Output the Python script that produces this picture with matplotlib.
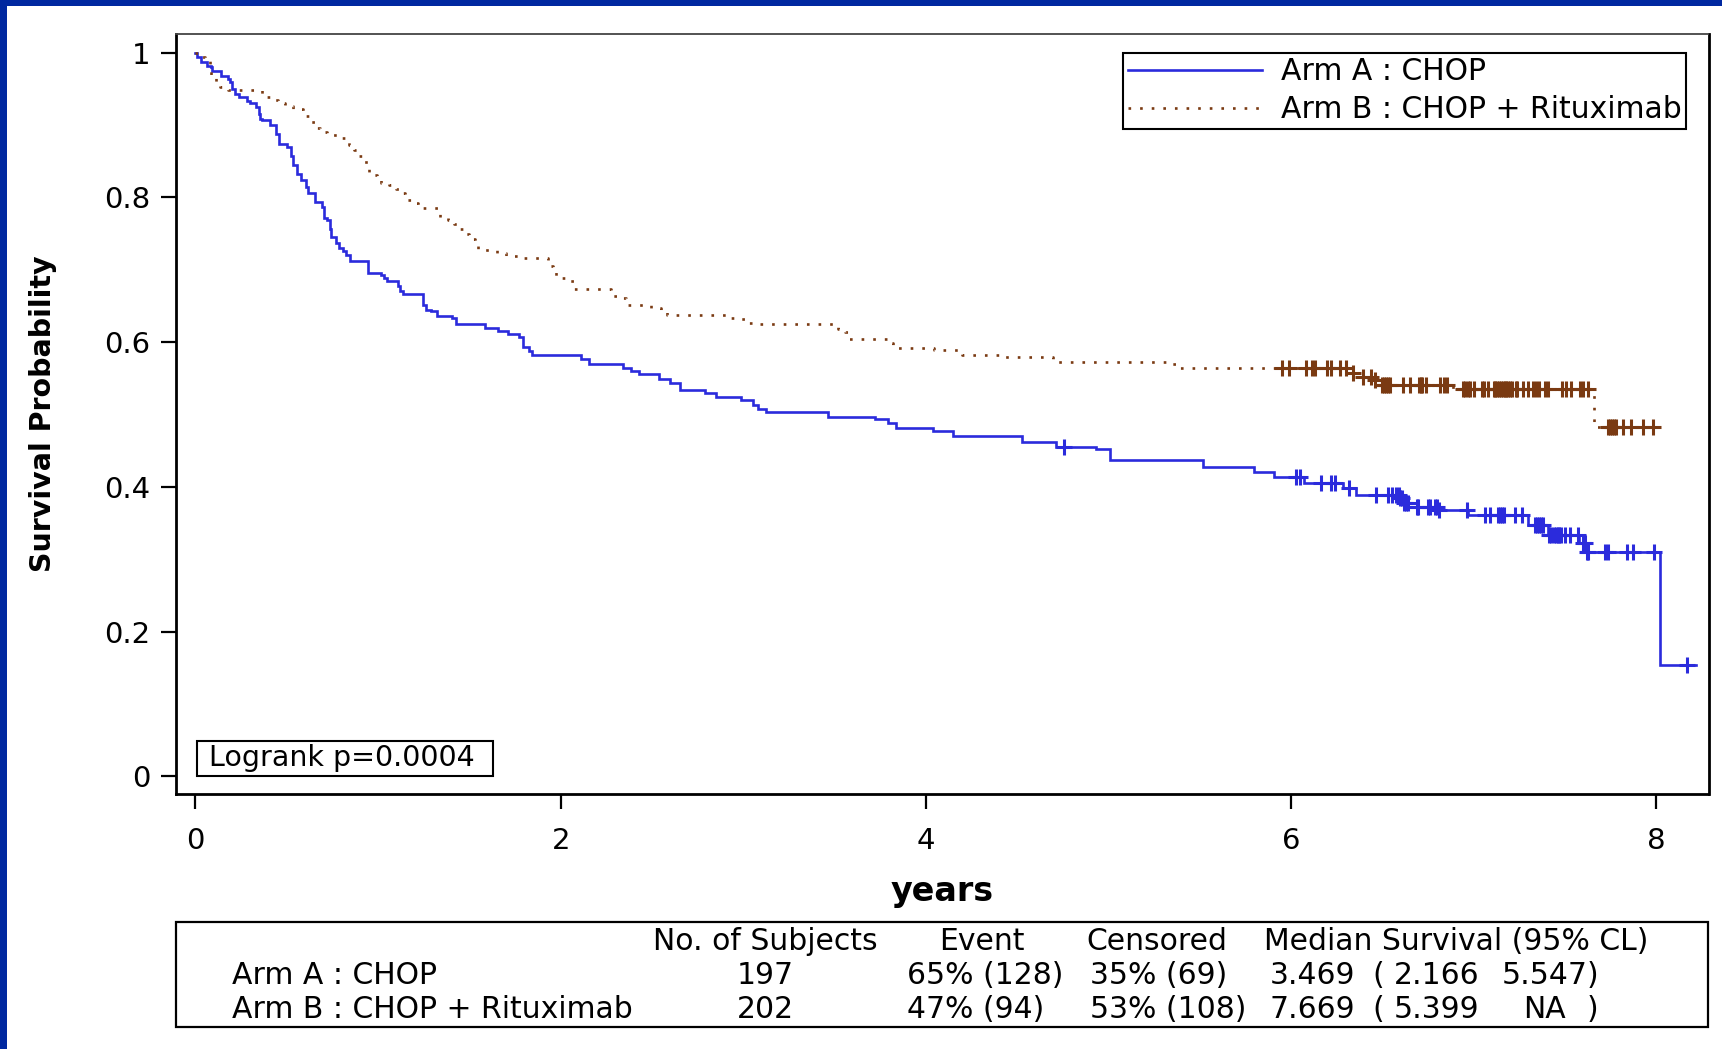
import numpy as np
import matplotlib
matplotlib.use("Agg")
import matplotlib.pyplot as plt
from matplotlib.patches import Rectangle

plt.rcParams['font.family'] = ['DejaVu Sans']

# ---------------- data ----------------
arm_labels = ['Arm A : CHOP', 'Arm B : CHOP + Rituximab']

time_A = [0.0, 0.010, 0.031, 0.063, 0.084, 0.090, 0.140, 0.178, 0.189, 0.199,
          0.214, 0.241, 0.283, 0.298, 0.331, 0.346, 0.356, 0.367, 0.409, 0.440,
          0.455, 0.503, 0.524, 0.535, 0.556, 0.577, 0.608, 0.618, 0.654, 0.692,
          0.702, 0.723, 0.734, 0.744, 0.771, 0.786, 0.807, 0.822, 0.849, 0.943,
          1.017, 1.031, 1.048, 1.111, 1.122, 1.136, 1.247, 1.262, 1.289, 1.321,
          1.405, 1.426, 1.583, 1.656, 1.713, 1.771, 1.792, 1.824, 1.845, 2.113,
          2.155, 2.342, 2.386, 2.428, 2.537, 2.600, 2.652, 2.792, 2.851, 2.990,
          3.051, 3.080, 3.124, 3.467, 3.721, 3.795, 3.838, 4.039, 4.149, 4.528,
          4.712, 4.934, 5.007, 5.520, 5.800, 5.906, 6.070, 6.286, 6.359, 6.596,
          6.620, 6.642, 6.810, 6.970, 7.300, 7.410, 7.580, 7.620, 8.020]
surv_A = [1.000, 0.9945, 0.9867, 0.9821, 0.9798, 0.9752, 0.9683, 0.9638, 0.9592, 0.9500,
          0.9431, 0.9394, 0.9339, 0.9303, 0.9248, 0.9156, 0.9087, 0.9073, 0.8995, 0.8881,
          0.8743, 0.8697, 0.8569, 0.8445, 0.8330, 0.8239, 0.8147, 0.8064, 0.7940, 0.7872,
          0.7711, 0.7688, 0.7560, 0.7459, 0.7367, 0.7298, 0.7266, 0.7206, 0.7115, 0.6954,
          0.6931, 0.6885, 0.6839, 0.6771, 0.6702, 0.6670, 0.6509, 0.6450, 0.6427, 0.6358,
          0.6330, 0.6257, 0.6197, 0.6161, 0.6106, 0.6073, 0.5936, 0.5876, 0.5817, 0.5761,
          0.5693, 0.5647, 0.5601, 0.5555, 0.5486, 0.5431, 0.5339, 0.5303, 0.5243, 0.5200,
          0.5130, 0.5070, 0.5030, 0.4970, 0.4940, 0.4880, 0.4810, 0.4770, 0.4710, 0.4620,
          0.4550, 0.4520, 0.4370, 0.4280, 0.4200, 0.4140, 0.4050, 0.3980, 0.3887, 0.3841,
          0.3772, 0.3725, 0.3680, 0.3610, 0.3472, 0.3334, 0.3220, 0.3104, 0.1539]
end_A = 8.22
cens_A = [4.755, 6.030, 6.049, 6.167, 6.222, 6.240, 6.317, 6.468, 6.532, 6.551,
          6.578, 6.591, 6.600, 6.610, 6.620, 6.630, 6.640, 6.688, 6.697, 6.752,
          6.761, 6.788, 6.801, 6.812, 6.965, 7.062, 7.089, 7.135, 7.145, 7.155,
          7.165, 7.226, 7.263, 7.336, 7.350, 7.360, 7.370, 7.380, 7.414, 7.427,
          7.440, 7.450, 7.460, 7.470, 7.480, 7.500, 7.527, 7.573, 7.600, 7.610,
          7.620, 7.628, 7.719, 7.737, 7.838, 7.874, 7.987, 8.170]

time_B = [0.0, 0.025, 0.050, 0.079, 0.083, 0.110, 0.136, 0.180, 0.367, 0.409,
          0.450, 0.490, 0.535, 0.587, 0.608, 0.629, 0.654, 0.681, 0.720, 0.800,
          0.839, 0.866, 0.890, 0.912, 0.943, 0.948, 0.996, 1.017, 1.059, 1.100,
          1.132, 1.147, 1.195, 1.216, 1.338, 1.384, 1.415, 1.447, 1.474, 1.499,
          1.530, 1.545, 1.650, 1.700, 1.800, 1.929, 1.960, 1.975, 2.050, 2.075,
          2.275, 2.317, 2.358, 2.495, 2.547, 2.580, 2.920, 2.980, 3.020, 3.056,
          3.520, 3.557, 3.580, 3.790, 3.820, 4.045, 4.200, 4.400, 4.694, 5.350,
          5.390, 6.305, 6.350, 6.450, 6.496, 6.887, 7.660]
surv_B = [1.000, 0.994, 0.988, 0.975, 0.967, 0.960, 0.953, 0.948, 0.939, 0.934,
          0.930, 0.927, 0.922, 0.920, 0.912, 0.904, 0.896, 0.890, 0.886, 0.882,
          0.872, 0.865, 0.857, 0.849, 0.842, 0.831, 0.828, 0.820, 0.817, 0.812,
          0.806, 0.796, 0.792, 0.785, 0.772, 0.769, 0.763, 0.756, 0.750, 0.742,
          0.738, 0.727, 0.723, 0.719, 0.716, 0.705, 0.700, 0.689, 0.684, 0.673,
          0.664, 0.661, 0.652, 0.647, 0.644, 0.638, 0.634, 0.632, 0.627, 0.6245,
          0.618, 0.614, 0.605, 0.599, 0.592, 0.589, 0.582, 0.580, 0.573, 0.570,
          0.564, 0.558, 0.552, 0.5475, 0.5406, 0.5347, 0.483]
end_B = 8.04
cens_B = [5.953, 5.990, 6.085, 6.113, 6.131, 6.195, 6.222, 6.268, 6.299, 6.341,
          6.395, 6.441, 6.460, 6.500, 6.510, 6.520, 6.530, 6.540, 6.615, 6.651,
          6.700, 6.710, 6.720, 6.740, 6.815, 6.840, 6.852, 6.943, 6.955, 6.970,
          6.980, 7.000, 7.044, 7.060, 7.080, 7.110, 7.120, 7.130, 7.140, 7.150,
          7.160, 7.170, 7.180, 7.190, 7.200, 7.210, 7.230, 7.240, 7.272, 7.299,
          7.327, 7.340, 7.360, 7.390, 7.410, 7.482, 7.509, 7.536, 7.582, 7.600,
          7.628, 7.737, 7.750, 7.760, 7.770, 7.780, 7.820, 7.865, 7.929, 7.984]

x_ticks = [0, 2, 4, 6, 8]
y_ticks = [0, 0.2, 0.4, 0.6, 0.8, 1.0]
y_tick_labels = ['0', '0.2', '0.4', '0.6', '0.8', '1']

logrank_text = 'Logrank p=0.0004'
table_header = ['No. of Subjects', 'Event', 'Censored', 'Median Survival (95% CL)']
n_subjects = ['197', '202']
events = ['65% (128)', '47% (94)']
censored = ['35% (69)', '53% (108)']
median_surv = ['3.469', '7.669']
ci_low = ['2.166', '5.399']
ci_high = ['5.547', 'NA']

# ---------------- style ----------------
BLUE = '#2B2BDC'
BROWN = '#7A3A12'
FRAME_BLUE = '#0028A0'

W, H = 1722, 1049
fig = plt.figure(figsize=(W / 100, H / 100), dpi=100)
fig.patch.set_facecolor('white')


def fx(px):
    return px / W


def fy(py):
    return 1 - py / H


ax_l, ax_r, ax_t, ax_b = 175.7, 1708.5, 34, 794
ax = fig.add_axes([fx(ax_l), fy(ax_b), fx(ax_r) - fx(ax_l), fy(ax_t) - fy(ax_b)])


def step_xy(t, s, end):
    return list(t) + [end], list(s) + [s[-1]]


def surv_at(t, s, c):
    idx = np.searchsorted(np.asarray(t), np.asarray(c), side='right') - 1
    return np.asarray(s)[idx]


xa, ya = step_xy(time_A, surv_A, end_A)
xb, yb = step_xy(time_B, surv_B, end_B)
lineA, = ax.plot(xa, ya, drawstyle='steps-post', color=BLUE, lw=1.9,
                 solid_joinstyle='miter')
lineB, = ax.plot(xb, yb, drawstyle='steps-post', color=BROWN, lw=1.9,
                 linestyle=(0, (1, 3.4)), dash_capstyle='butt')

ax.plot(cens_A, surv_at(time_A, surv_A, cens_A), linestyle='none', marker='+',
        ms=11.5, mew=2.2, color=BLUE)
ax.plot(cens_B, surv_at(time_B, surv_B, cens_B), linestyle='none', marker='+',
        ms=11.5, mew=2.2, color=BROWN)

ax.set_xlim(-0.1084, 8.287)
ax.set_ylim(-0.0243, 1.0258)
ax.set_xticks(x_ticks)
ax.set_xticklabels([str(v) for v in x_ticks])
ax.set_yticks(y_ticks)
ax.set_yticklabels(y_tick_labels)
ax.tick_params(axis='both', direction='out', length=11, width=1.6, labelsize=21,
               colors='black')
ax.tick_params(axis='y', pad=7)
ax.tick_params(axis='x', pad=13)

for side in ['left', 'bottom', 'right']:
    ax.spines[side].set_linewidth(2.0)
    ax.spines[side].set_color('black')
ax.spines['top'].set_linewidth(1.3)
ax.spines['top'].set_color('#444444')

ax.set_xlabel('years', fontsize=24, fontweight='bold')
ax.xaxis.label.set_va('center')
ax.xaxis.set_label_coords(0.5, (ax_b - 892) / (ax_b - ax_t))
ax.set_ylabel('Survival Probability', fontsize=20.5, fontweight='bold')
ax.yaxis.label.set_va('center')
ax.yaxis.set_label_coords((43 - ax_l) / (ax_r - ax_l), 0.5)

leg = ax.legend(handles=[lineA, lineB], labels=arm_labels, loc='upper right',
                bbox_to_anchor=(fx(1686), fy(53)), bbox_transform=fig.transFigure,
                borderaxespad=0, fontsize=21.5, handlelength=4.5, handletextpad=0.62,
                borderpad=0.15, labelspacing=0.3, frameon=True, fancybox=False,
                edgecolor='black', framealpha=1)
leg.get_frame().set_linewidth(1.5)

# Logrank box
fig.add_artist(Rectangle((fx(197), fy(776)), fx(493) - fx(197), fy(741) - fy(776),
                         transform=fig.transFigure, fill=False, ec='black', lw=1.5))
fig.text(fx(208.7), fy(758.5), logrank_text, ha='left', va='center', fontsize=20.5)

# Summary table
fig.add_artist(Rectangle((fx(176), fy(1027)), fx(1708) - fx(176), fy(922) - fy(1027),
                         transform=fig.transFigure, fill=False, ec='black', lw=1.6))
TS = 21.5
hy = fy(942)
fig.text(fx(765), hy, table_header[0], ha='center', va='center', fontsize=TS)
fig.text(fx(982), hy, table_header[1], ha='center', va='center', fontsize=TS)
fig.text(fx(1086), hy, table_header[2], ha='left', va='center', fontsize=TS)
fig.text(fx(1264), hy, table_header[3], ha='left', va='center', fontsize=TS)
for i, ry in enumerate([976, 1010]):
    yy = fy(ry)
    fig.text(fx(231.7), yy, arm_labels[i], ha='left', va='center', fontsize=TS)
    fig.text(fx(765), yy, n_subjects[i], ha='center', va='center', fontsize=TS)
    fig.text(fx(907), yy, events[i], ha='left', va='center', fontsize=TS)
    fig.text(fx(1090), yy, censored[i], ha='left', va='center', fontsize=TS)
    fig.text(fx(1270), yy, median_surv[i], ha='left', va='center', fontsize=TS)
    fig.text(fx(1372), yy, '(', ha='left', va='center', fontsize=TS)
    fig.text(fx(1394), yy, ci_low[i], ha='left', va='center', fontsize=TS)
    fig.text(fx(1545), yy, ci_high[i], ha='center', va='center', fontsize=TS)
    fig.text(fx(1587), yy, ')', ha='left', va='center', fontsize=TS)

# slide frame (blue band on left and top)
fig.add_artist(Rectangle((0, 0), fx(7), 1, transform=fig.transFigure,
                         color=FRAME_BLUE, lw=0))
fig.add_artist(Rectangle((0, fy(6)), 1, 6 / H, transform=fig.transFigure,
                         color=FRAME_BLUE, lw=0))

fig.savefig('out.png', dpi=100, facecolor='white')
